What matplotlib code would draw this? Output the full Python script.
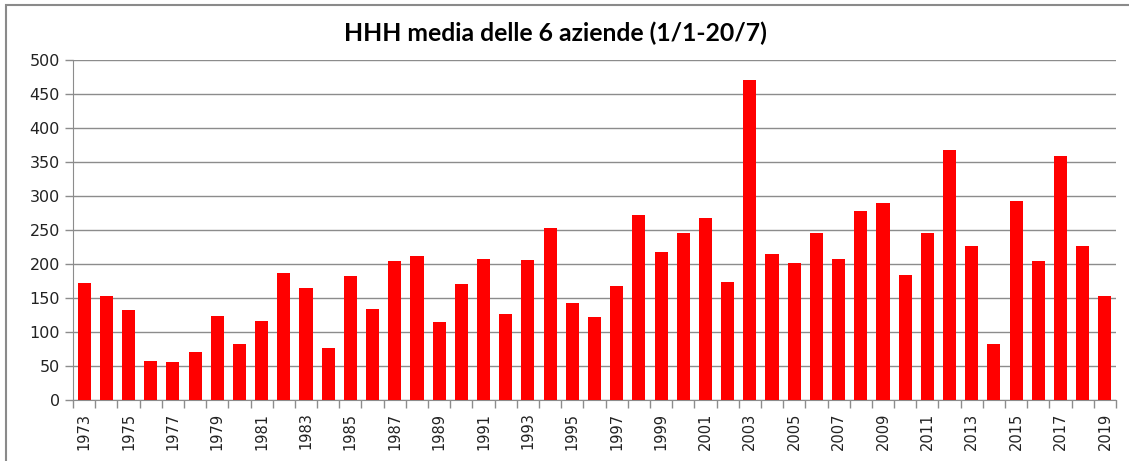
import matplotlib.pyplot as plt
from matplotlib.patches import Rectangle
import numpy as np

# Anni e valori HHH medi
years = list(range(1973, 2020))
values = [172, 153, 132, 57, 56, 70, 123, 83, 116, 187,
          164, 76, 183, 134, 204, 212, 115, 170, 208, 126,
          206, 253, 142, 122, 168, 272, 217, 246, 268, 174,
          471, 215, 201, 246, 207, 278, 290, 184, 245, 368,
          227, 82, 292, 205, 359, 227, 153]
title = 'HHH media delle 6 aziende (1/1-20/7)'

plt.rcParams['font.family'] = 'DejaVu Sans'

W, H = 1129, 461
fig = plt.figure(figsize=(W / 100, H / 100), dpi=100)
fig.patch.set_facecolor('white')

# outer chart border
fig.patches.append(Rectangle((6 / W, -0.05), 1.1, 1 - 5 / H + 0.05,
                             transform=fig.transFigure, fill=False,
                             edgecolor='#8a8a8a', linewidth=1.5))

ax = fig.add_axes([73 / W, 1 - 400 / H, (1116 - 73) / W, (400 - 60) / H])

x = np.arange(len(years))
ax.bar(x, values, width=0.59, color='#ff0000', zorder=3)

ax.set_xlim(-0.5, len(years) - 0.5)
ax.set_ylim(0, 500)
ax.set_yticks(range(0, 501, 50))
ax.yaxis.grid(True, color='#8c8c8c', linewidth=1, zorder=0)

# labels every two years, tick marks between categories
ax.set_xticks(x[::2])
ax.set_xticklabels([str(y) for y in years[::2]], rotation=90)
ax.set_xticks(np.arange(-0.5, len(years), 1), minor=True)
ax.tick_params(axis='x', which='major', length=0, pad=9, labelsize=10.5, labelcolor='#222222')
ax.tick_params(axis='x', which='minor', length=6, color='#8c8c8c', width=1)
ax.tick_params(axis='y', length=6, color='#8c8c8c', width=1, labelsize=11.5, labelcolor='#222222')

for s in ['top', 'right']:
    ax.spines[s].set_visible(False)
for s in ['left', 'bottom']:
    ax.spines[s].set_color('#8c8c8c')

fig.text(555 / W, 1 - 33 / H, title, ha='center', va='center',
         fontsize=17.8, fontweight='bold', family='Lato')

plt.savefig('out.png', dpi=100)
